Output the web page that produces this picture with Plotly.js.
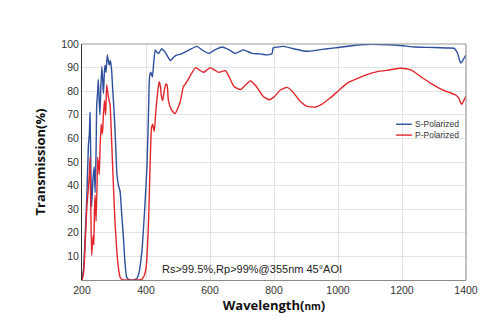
<!DOCTYPE html>
<html><head><meta charset="utf-8">
<script src="https://cdn.plot.ly/plotly-3.0.1.min.js"></script>
<style>html,body{margin:0;padding:0;background:#fff}#chart{width:500px;height:334px}</style>
</head><body><div id="chart"></div>
<script>
const sWave = [200,205,209,215,220,223,225,228,230,234,238,241,244,246,249,251,254,256,259,262,265,267,270,272,275,279,282,285,288,290,293,295,300,305,309,314,319,324,329,334,340,350,360,371,378,387,395,403,408,411,415,420,424,429,434,439,444,450,457,465,476,487,497,507,520,535,559,575,596,615,638,660,679,704,732,755,779,794,797,810,831,860,904,935,967,1000,1071,1130,1186,1243,1300,1340,1363,1370,1374,1380,1384,1390,1400];
const sVal = [0,5,16,35,57,62,71,45,31,42,48,37,55,74,80,85,75,70,82,90.5,84,79,88,91,88,95.4,93,91,93,92,88,83,72,58,45,40,37.6,28,19,8,1,0,0,0.5,3,12,28,48,72,86,88,86,92,97.5,96.5,96,97,98,97,95.4,93,94.5,95.4,95.6,96.5,97.5,99,97.5,96,97.5,98.7,97.5,96,97.5,96,95.8,95.4,96,98.3,98.7,99,98,96.9,97.4,98,98.5,99.7,99.8,99.5,98.7,98.5,98.3,98.2,97,96,93,91.9,93,95.4];
const pWave = [200,205,210,215,220,223,225,227,230,232,235,237,239,241,244,247,249,252,254,257,260,262,264,267,270,272,274,277,280,282,285,288,290,293,298,303,309,314,319,325,340,370,387,395,400,404,408,412,416,418,421,424,426,431,436,441,445,448,452,457,462,466,470,480,491,500,507,517,523,538,555,567,580,590,601,614,627,648,660,675,695,710,726,745,765,784,800,820,841,860,880,904,930,950,977,1000,1030,1061,1090,1123,1160,1196,1228,1260,1290,1320,1343,1369,1378,1383,1387,1393,1400];
const pVal = [0,3,15,30.6,39,45,52,35,10.5,14,19,15,30,36,24.8,40,52,48,44.7,58,66,63,62,70,76,73,70,82.6,80,78,76,74,68,57.6,40.5,25,12,5,1.2,0.2,0,0,0.3,2,5,12,25,45,62,65,66,64,63,72,79,84,82,78,76,80,83,82.6,76,72,70.5,73,75.5,82,83,86.5,90,89,88,89,90,89,88,88.7,86,82,80.7,82.5,84.3,82,78,76.4,77.5,80.5,81.6,79.5,76,73.6,73.3,74.5,77.3,80,83.5,85.4,87,88.3,89,89.7,89,86,83.3,81,79.7,78.3,77,75,74.4,76,77.9];
const xTicks = [200,400,600,800,1000,1200,1400];
const yTicks = [10,20,30,40,50,60,70,80,90,100];
const seriesNames = ['S-Polarized','P-Polarized'];
const seriesColors = ['#2D4F9E','#E3262C'];
const noteText = 'Rs>99.5%,Rp>99%@355nm 45°AOI';

const traces = [
  {x: sWave, y: sVal, name: seriesNames[0], mode: 'lines', line: {color: seriesColors[0], width: 1.4, shape: 'spline', smoothing: 0.5}},
  {x: pWave, y: pVal, name: seriesNames[1], mode: 'lines', line: {color: seriesColors[1], width: 1.4, shape: 'spline', smoothing: 0.5}}
];

// custom legend (positions in paper coordinates)
const legX0 = 0.818, legX1 = 0.859, legY = [0.660, 0.614];
const legendShapes = seriesNames.map((n, i) => ({type: 'line', xref: 'paper', yref: 'paper',
  x0: legX0, x1: legX1, y0: legY[i], y1: legY[i], line: {color: seriesColors[i], width: 1.4}}));
const legendTexts = seriesNames.map((n, i) => ({xref: 'paper', yref: 'paper', x: legX1 + 0.002, y: legY[i],
  xanchor: 'left', yanchor: 'middle', text: n, showarrow: false, font: {size: 8.5, color: '#333'}}));

const layout = {
  width: 500, height: 334,
  margin: {l: 82, r: 34, t: 44, b: 54},
  paper_bgcolor: '#fff', plot_bgcolor: '#fff',
  font: {family: 'Liberation Sans, Arial, sans-serif', size: 10, color: '#333'},
  showlegend: false,
  xaxis: {range: [200, 1400], tickvals: xTicks, ticktext: xTicks.map(String), showgrid: true, gridcolor: '#e3e3e3', gridwidth: 1,
    zeroline: false, showline: true, linecolor: '#8a8a8a', linewidth: 1, ticks: '', ticklen: 0,
    tickfont: {size: 10.5, color: '#333'},
    title: {text: 'Wavelength(<span style="font-size:10px">nm</span>)', font: {family: 'Open Sans, sans-serif', size: 13, color: '#111', weight: 'bold'}, standoff: 6}},
  yaxis: {range: [0, 100], tickvals: yTicks, ticktext: yTicks.map(String), showgrid: true, gridcolor: '#e3e3e3', gridwidth: 1,
    zeroline: false, showline: true, linecolor: '#333', linewidth: 1, ticks: '', ticklen: 0,
    tickfont: {size: 10.5, color: '#333'},
    title: {text: 'Transmission(%)', font: {family: 'Open Sans, sans-serif', size: 13, color: '#111', weight: 'bold'}, standoff: 12}},
  shapes: [
    {type: 'line', xref: 'paper', yref: 'paper', x0: 0, x1: 1, y0: 1, y1: 1, line: {color: '#9a9a9a', width: 1.2}},
    {type: 'line', xref: 'paper', yref: 'paper', x0: 1, x1: 1, y0: 0, y1: 1, line: {color: '#9a9a9a', width: 1.2}}
  ].concat(legendShapes),
  annotations: [
    {x: 732, y: 4.5, xref: 'x', yref: 'y', text: noteText, showarrow: false, font: {size: 11, color: '#222'}}
  ].concat(legendTexts)
};
Plotly.newPlot('chart', traces, layout, {displayModeBar: false, staticPlot: true});
</script>
</body></html>
